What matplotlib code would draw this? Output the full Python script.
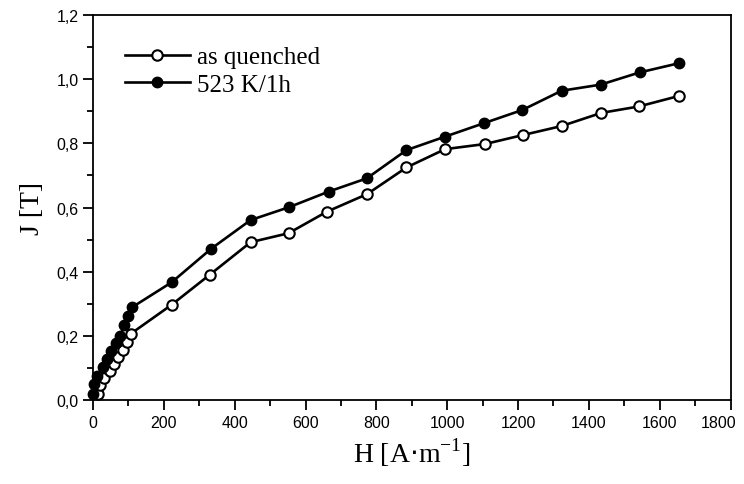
import matplotlib
matplotlib.use("Agg")
import matplotlib.pyplot as plt
from matplotlib.ticker import MultipleLocator, FuncFormatter
from matplotlib.transforms import ScaledTranslation

# as quenched (open circles)
h_quenched = [15, 21, 32, 48, 59, 70, 84, 95, 107, 222, 330, 445, 552, 660,
              774, 885, 994, 1107, 1214, 1323, 1435, 1541, 1655]
j_quenched = [0.019, 0.047, 0.070, 0.090, 0.112, 0.134, 0.157, 0.182, 0.207,
              0.297, 0.391, 0.492, 0.520, 0.587, 0.642, 0.725, 0.782, 0.798,
              0.826, 0.854, 0.895, 0.915, 0.948]

# 523 K/1h (filled circles)
h_annealed = [0, 3, 12, 27, 39, 50, 65, 77, 88, 98, 110, 222, 334, 445, 553,
              666, 773, 885, 994, 1104, 1212, 1323, 1433, 1543, 1655]
j_annealed = [0.019, 0.050, 0.076, 0.103, 0.128, 0.154, 0.178, 0.200, 0.234,
              0.263, 0.289, 0.367, 0.472, 0.561, 0.601, 0.650, 0.691, 0.779,
              0.821, 0.863, 0.904, 0.964, 0.983, 1.021, 1.050]

labels = ["as quenched", "523 K/1h"]

fig = plt.figure(figsize=(7.44, 4.85), dpi=100)
ax = fig.add_axes([0.125, 0.173, 0.857, 0.794])

ax.plot(h_quenched, j_quenched, color="black", lw=1.9, marker="o", ms=7.5,
        mfc="white", mec="black", mew=1.5, label=labels[0], clip_on=False, zorder=3)
ax.plot(h_annealed, j_annealed, color="black", lw=1.9, marker="o", ms=7.5,
        mfc="black", mec="black", label=labels[1], clip_on=False, zorder=3)

ax.set_xlim(0, 1800)
ax.set_ylim(0, 1.2)
ax.xaxis.set_major_locator(MultipleLocator(200))
ax.xaxis.set_minor_locator(MultipleLocator(100))
ax.yaxis.set_major_locator(MultipleLocator(0.2))
ax.yaxis.set_minor_locator(MultipleLocator(0.1))
ax.yaxis.set_major_formatter(FuncFormatter(lambda v, p: f"{v:.1f}".replace(".", ",")))

ax.tick_params(which="both", direction="out", top=False, right=False, width=1.3)
ax.tick_params(which="major", length=7, labelsize=11.5)
ax.tick_params(which="minor", length=4)
for s in ax.spines.values():
    s.set_linewidth(1.3)

ax.set_xlabel("H [A$\\cdot$m$^{\\mathregular{-1}}$]", family="Liberation Serif", fontsize=20)
ax.set_ylabel("J [T]", family="Liberation Serif", fontsize=20, labelpad=8)

leg = ax.legend(loc="upper left", bbox_to_anchor=(0.05, 0.92), frameon=False,
                prop={"family": "Liberation Serif", "size": 18},
                handlelength=2.6, handletextpad=0.3, labelspacing=0.2,
                borderaxespad=0, borderpad=0)

fig.canvas.draw()
for lab in ax.get_xticklabels() + ax.get_yticklabels():
    lab.set_fontfamily("Liberation Sans")
# last x label sits a bit left of its tick, like in the original
for lab in ax.get_xticklabels():
    if lab.get_text() == "1800":
        lab.set_transform(lab.get_transform() + ScaledTranslation(-0.12, 0, fig.dpi_scale_trans))

fig.savefig("out.png", dpi=100)
